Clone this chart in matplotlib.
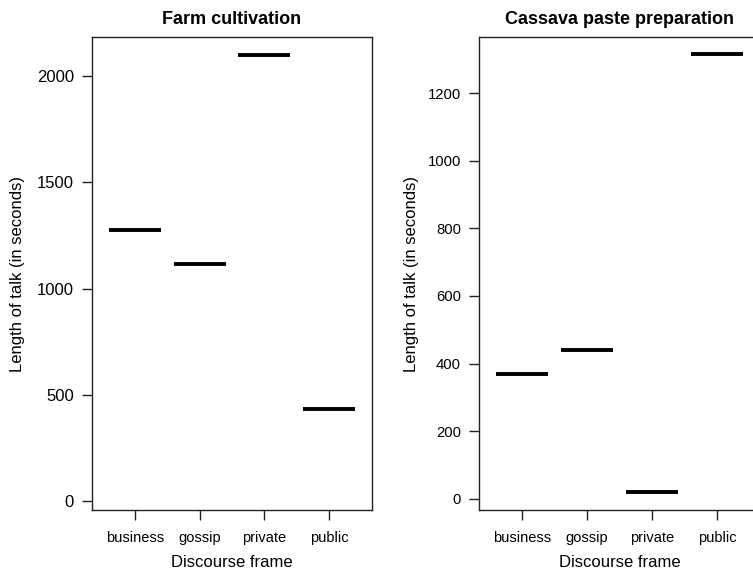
import matplotlib
matplotlib.use("Agg")
import matplotlib.pyplot as plt

plt.rcParams['font.family'] = ['Liberation Sans', 'DejaVu Sans']

frames = ["business", "gossip", "private", "public"]
farm_seconds = [1275, 1115, 2100, 435]
cassava_seconds = [370, 440, 20, 1315]

W, H = 753, 572
fig = plt.figure(figsize=(W / 100, H / 100), dpi=100)


def panel(x0, x1, title, values, yticks, ylim, ysize, ypad):
    ax = fig.add_axes([x0 / W, 1 - 510 / H, (x1 - x0) / W, (510 - 37) / H])
    pos = range(1, len(frames) + 1)
    # each group has one value, so the box collapses to its median line
    ax.hlines(values, [p - 0.4 for p in pos], [p + 0.4 for p in pos],
              colors="black", linewidth=2.8, capstyle="butt")
    ax.set_xlim(0.34, 4.66)
    ax.set_ylim(*ylim)
    ax.set_xticks(list(pos))
    ax.set_xticklabels(frames)
    ax.set_yticks(yticks)
    ax.tick_params(length=7, width=1.0, color="#222222")
    ax.tick_params(axis="x", labelsize=10.5, pad=8)
    ax.tick_params(axis="y", labelsize=ysize, pad=6)
    for s in ax.spines.values():
        s.set_linewidth(1.0)
        s.set_color("#222222")
    ax.set_title(title, fontsize=13, fontweight="bold", pad=9)
    ax.set_xlabel("Discourse frame", fontsize=12, labelpad=7)
    ax.set_ylabel("Length of talk (in seconds)", fontsize=12, labelpad=ypad)
    return ax


panel(92, 372, "Farm cultivation", farm_seconds,
      [0, 500, 1000, 1500, 2000], (-42, 2184), 12, 8.5)
panel(479, 760, "Cassava paste preparation", cassava_seconds,
      [0, 200, 400, 600, 800, 1000, 1200], (-33, 1366), 10.7, 6.5)

fig.savefig("out.png", dpi=100)
